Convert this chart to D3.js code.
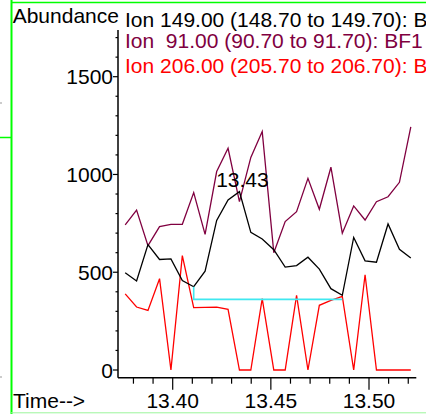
<!DOCTYPE html>
<html>
<head>
<meta charset="utf-8">
<script src="https://cdn.jsdelivr.net/npm/d3@7"></script>
<style>
  html, body { margin: 0; padding: 0; background: #fff; }
  svg { display: block; }
  text { font-family: "Liberation Sans", Arial, sans-serif; }
</style>
</head>
<body>
<svg id="chart" width="426" height="414"></svg>
<script>
// Scan times (min)
const times = [13.3758, 13.3816, 13.3874, 13.3933, 13.3991, 13.4049, 13.4107, 13.4165,
  13.4224, 13.4282, 13.4340, 13.4398, 13.4456, 13.4515, 13.4573, 13.4631, 13.4689,
  13.4747, 13.4806, 13.4864, 13.4922, 13.4980, 13.5038, 13.5097, 13.5155, 13.5213];

// Extracted ion abundances
const ion149 = [497, 455, 641, 565, 568, 458, 426, 505, 765, 870, 912, 704, 670, 615,
  526, 534, 577, 516, 416, 382, 678, 558, 551, 747, 617, 573];
const ion91 = [742, 818, 636, 733, 745, 745, 907, 694, 1015, 1134, 861, 1087, 1220, 600,
  759, 810, 980, 822, 1037, 700, 839, 767, 861, 886, 960, 1244];
const ion206 = [389, 322, 305, 467, 0, 585, 319, 320, 322, 310, 0, 0, 365, 0, 0, 382, 0,
  331, 356, 377, 0, 487, 0, 0, 0, 0];

const legendLabels = [
  "Ion 149.00 (148.70 to 149.70): B",
  "Ion\u00a0 91.00 (90.70 to 91.70): BF1",
  "Ion 206.00 (205.70 to 206.70): B"
];
const seriesColors = ["#000000", "#800040", "#ff0000"];

// Integration baseline of the labelled peak
const baseStart = 6, baseEnd = 19, baseLevel = 361;
const peakIndex = 10;
const peakLabel = "13.43";

const xTicksMajor = [13.40, 13.45, 13.50];
const xTicksMinor = [13.38, 13.39, 13.40, 13.41, 13.42, 13.43, 13.44, 13.45, 13.46,
  13.47, 13.48, 13.49, 13.50, 13.51, 13.52];
const yTicksMajor = [0, 500, 1000, 1500];
const yTicksMinor = d3.range(0, 1800, 100);

const svg = d3.select("#chart");

const x = d3.scaleLinear().domain([13.40, 13.50]).range([172.7, 369]);
const y = d3.scaleLinear().domain([0, 1500]).range([370, 76.7]);

const xLeft = 118, xRight = 416.3, yBottom = 377.7, yTop = 30;

// Window frame
const green = "#00ff00";
svg.append("line").attr("x1", 11.5).attr("x2", 11.5).attr("y1", 0).attr("y2", 414)
  .attr("stroke", green).attr("stroke-width", 2);
svg.append("line").attr("x1", 11).attr("x2", 426).attr("y1", 2.5).attr("y2", 2.5)
  .attr("stroke", green).attr("stroke-width", 1.5);
svg.append("line").attr("x1", 11).attr("x2", 426).attr("y1", 412.8).attr("y2", 412.8)
  .attr("stroke", "#9cf59c").attr("stroke-width", 1);
svg.append("line").attr("x1", 0).attr("x2", 11).attr("y1", 137.5).attr("y2", 137.5)
  .attr("stroke", green).attr("stroke-width", 1.5);
svg.append("line").attr("x1", 0).attr("x2", 2).attr("y1", 103).attr("y2", 103)
  .attr("stroke", "#999").attr("stroke-width", 1);
svg.append("line").attr("x1", 0).attr("x2", 2).attr("y1", 377).attr("y2", 377)
  .attr("stroke", "#999").attr("stroke-width", 1);

// Y axis: line, major/minor ticks, labels
svg.append("line").attr("x1", xLeft).attr("x2", xLeft).attr("y1", yTop).attr("y2", yBottom)
  .attr("stroke", "#000").attr("stroke-width", 1.5);
svg.selectAll(".ytick").data(yTicksMinor).join("line")
  .attr("x1", d => xLeft - (yTicksMajor.includes(d) ? 5 : 2.5)).attr("x2", xLeft)
  .attr("y1", d => y(d)).attr("y2", d => y(d))
  .attr("stroke", "#000").attr("stroke-width", 1.2);
svg.selectAll(".ylab").data(yTicksMajor).join("text")
  .attr("x", 113).attr("y", d => y(d) + 7.5)
  .attr("text-anchor", "end").attr("font-size", 21).attr("fill", "#000")
  .text(d => d);

// X axis: line, major/minor ticks, labels
svg.append("line").attr("x1", xLeft).attr("x2", xRight).attr("y1", yBottom).attr("y2", yBottom)
  .attr("stroke", "#000").attr("stroke-width", 1.5);
const isMajorX = v => xTicksMajor.some(m => Math.abs(m - v) < 1e-6);
svg.selectAll(".xtick").data(xTicksMinor).join("line")
  .attr("x1", d => x(d)).attr("x2", d => x(d))
  .attr("y1", yBottom).attr("y2", d => yBottom + (isMajorX(d) ? 12 : 6))
  .attr("stroke", "#000").attr("stroke-width", 1.2);
svg.selectAll(".xlab").data(xTicksMajor).join("text")
  .attr("x", d => x(d)).attr("y", 408.3)
  .attr("text-anchor", "middle").attr("font-size", 21).attr("fill", "#000")
  .text(d => d.toFixed(2));

svg.append("text").attr("x", 13).attr("y", 408.3).attr("font-size", 21).text("Time-->");
svg.append("text").attr("x", 12.7).attr("y", 22.8).attr("font-size", 21).text("Abundance");

// Legend
const legendY = [26.5, 47.5, 72.5];
legendLabels.forEach((t, i) => {
  svg.append("text").attr("x", 125).attr("y", legendY[i]).attr("font-size", 21)
    .attr("fill", seriesColors[i]).text(t);
});

// Ion traces
const line = d3.line().x((d, i) => x(times[i])).y(d => y(d));
[[ion206, seriesColors[2]], [ion91, seriesColors[1]], [ion149, seriesColors[0]]]
  .forEach(([s, col]) => {
    svg.append("path").datum(s).attr("d", line)
      .attr("fill", "none").attr("stroke", col).attr("stroke-width", 1.3);
  });

// Integration baseline
const basePts = [[times[baseStart], ion149[baseStart]], [times[baseStart], baseLevel],
  [times[baseEnd], baseLevel]];
svg.append("path").datum(basePts)
  .attr("d", d3.line().x(d => x(d[0])).y(d => y(d[1])))
  .attr("fill", "none").attr("stroke", "#40e8f0").attr("stroke-width", 1.6);

// Peak label
svg.append("text").attr("x", x(times[peakIndex]) + 3).attr("y", y(ion149[peakIndex]) - 5)
  .attr("text-anchor", "middle").attr("font-size", 21).attr("fill", "#000")
  .text(peakLabel);
</script>
</body>
</html>
